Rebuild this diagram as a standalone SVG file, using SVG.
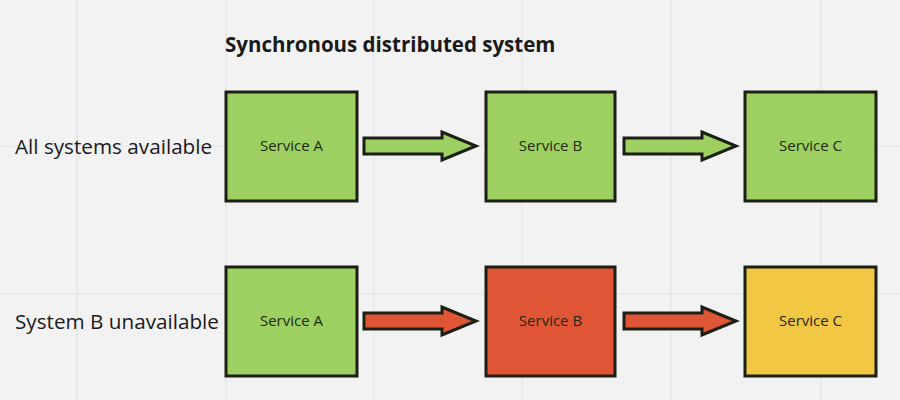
<svg xmlns="http://www.w3.org/2000/svg" width="900" height="400" viewBox="0 0 900 400">
<style>
.grid{stroke:#e4e4e4;stroke-width:1.2}
.box{stroke:#1b1f14;stroke-width:3}
.green{fill:#9dd061}
.red{fill:#e05535}
.yellow{fill:#f2c744}
.lbl{font-family:"Open Sans","Noto Sans",sans-serif;font-size:15px;fill:#1f2a14;text-anchor:middle}
.side{font-family:"Open Sans","Noto Sans",sans-serif;font-size:20.7px;fill:#1a1a1a}
.title{font-family:"Open Sans","Noto Sans",sans-serif;font-size:20.5px;font-weight:bold;fill:#1a1a1a}
.arr{stroke:#1b1f14;stroke-width:3;stroke-linejoin:miter}
</style>
<defs>
<path id="arrow" d="M0,-8 L78,-8 L78,-14 L112,0 L78,14 L78,8 L0,8 Z"/>
</defs>
<rect width="900" height="400" fill="#f2f2f2"/>
<g id="grid">
<line class="grid" x1="77" y1="0" x2="77" y2="400"/>
<line class="grid" x1="226" y1="0" x2="226" y2="400"/>
<line class="grid" x1="374" y1="0" x2="374" y2="400"/>
<line class="grid" x1="522" y1="0" x2="522" y2="400"/>
<line class="grid" x1="671" y1="0" x2="671" y2="400"/>
<line class="grid" x1="821" y1="0" x2="821" y2="400"/>
<line class="grid" x1="0" y1="146" x2="900" y2="146"/>
<line class="grid" x1="0" y1="294" x2="900" y2="294"/>
</g>
<text id="title" class="title" x="225" y="52">Synchronous distributed system</text>
<text id="label-row1" class="side" x="15" y="154">All systems available</text>
<text id="label-row2" class="side" x="15" y="329">System B unavailable</text>
<g id="connectors">
<use href="#arrow" class="arr green" x="364" y="146"/>
<use href="#arrow" class="arr green" x="624" y="146"/>
<use href="#arrow" class="arr red" x="364" y="321"/>
<use href="#arrow" class="arr red" x="624" y="321"/>
</g>
<g id="r1-a"><rect class="box green" x="226" y="92" width="131" height="109"/><text class="lbl" x="291.5" y="151">Service A</text></g>
<g id="r1-b"><rect class="box green" x="486" y="92" width="129" height="109"/><text class="lbl" x="550.5" y="151">Service B</text></g>
<g id="r1-c"><rect class="box green" x="745" y="92" width="131" height="109"/><text class="lbl" x="810.5" y="151">Service C</text></g>
<g id="r2-a"><rect class="box green" x="226" y="267" width="131" height="109"/><text class="lbl" x="291.5" y="326">Service A</text></g>
<g id="r2-b"><rect class="box red" x="486" y="267" width="129" height="109"/><text class="lbl" x="550.5" y="326">Service B</text></g>
<g id="r2-c"><rect class="box yellow" x="745" y="267" width="131" height="109"/><text class="lbl" x="810.5" y="326">Service C</text></g>
</svg>
